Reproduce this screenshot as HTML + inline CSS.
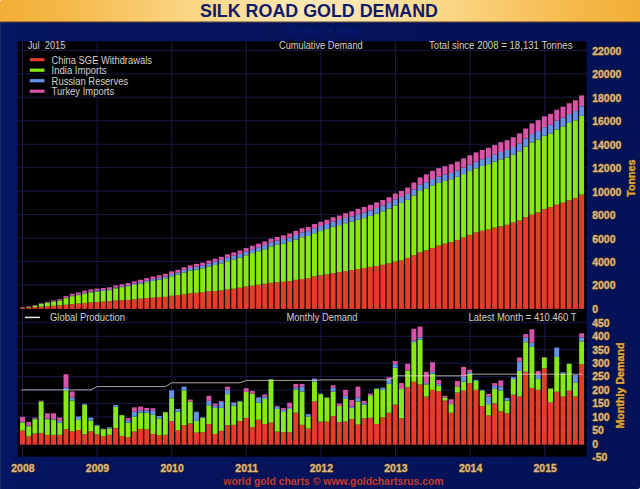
<!DOCTYPE html>
<html><head><meta charset="utf-8"><title>Silk Road Gold Demand</title>
<style>html,body{margin:0;padding:0;background:#05155a;}body{width:640px;height:489px;overflow:hidden;font-family:"Liberation Sans",sans-serif;}svg{display:block}text{font-family:"Liberation Sans",sans-serif;}</style>
</head><body>
<svg width="640" height="489" viewBox="0 0 640 489">
<defs>
<linearGradient id="hd" x1="0" y1="0" x2="1" y2="0"><stop offset="0" stop-color="#f2ae36"/><stop offset="0.1" stop-color="#f5b848"/><stop offset="0.31" stop-color="#fbd888"/><stop offset="0.45" stop-color="#fde6b0"/><stop offset="0.55" stop-color="#fde6b0"/><stop offset="0.69" stop-color="#fbd888"/><stop offset="0.9" stop-color="#f5b848"/><stop offset="1" stop-color="#f2ae36"/></linearGradient>
<linearGradient id="bg" x1="0" y1="0" x2="1" y2="0"><stop offset="0" stop-color="#061766"/><stop offset="0.04" stop-color="#05145e"/><stop offset="1" stop-color="#041257"/></linearGradient>
<filter id="sh" x="-10%" y="-10%" width="120%" height="120%" filterUnits="userSpaceOnUse"><feGaussianBlur stdDeviation="0.5"/></filter>
<filter id="bl" x="-2%" y="-2%" width="104%" height="104%"><feGaussianBlur stdDeviation="0.45"/></filter>
</defs>
<rect x="0" y="0" width="640" height="489" fill="url(#bg)"/>
<rect x="0" y="0" width="1.2" height="489" fill="#1c2a6c"/>
<rect x="0" y="0" width="640" height="22.1" fill="url(#hd)"/>
<rect x="0" y="21.3" width="640" height="1.2" fill="#5a3a20" opacity="0.7"/>
<path d="M0 0 H2.5 A2.5 2.5 0 0 0 0 2.5 Z" fill="#fff4d8"/>
<text x="319" y="16.8" text-anchor="middle" font-size="18" font-weight="bold" fill="#101a6c" textLength="238" lengthAdjust="spacingAndGlyphs">SILK ROAD GOLD DEMAND</text>
<text x="322" y="34" text-anchor="middle" font-size="10" font-weight="bold" font-style="italic" fill="#0a2590" opacity="0.45" filter="url(#sh)">Tonnes of Gold</text>
<rect x="17.6" y="41.3" width="569.0" height="415.4" fill="#000000"/>
<g stroke="#17194a" stroke-width="1" fill="none">
<line x1="17.6" x2="586.6" y1="285.03" y2="285.03"/>
<line x1="17.6" x2="586.6" y1="261.56" y2="261.56"/>
<line x1="17.6" x2="586.6" y1="238.10" y2="238.10"/>
<line x1="17.6" x2="586.6" y1="214.63" y2="214.63"/>
<line x1="17.6" x2="586.6" y1="191.16" y2="191.16"/>
<line x1="17.6" x2="586.6" y1="167.69" y2="167.69"/>
<line x1="17.6" x2="586.6" y1="144.22" y2="144.22"/>
<line x1="17.6" x2="586.6" y1="120.75" y2="120.75"/>
<line x1="17.6" x2="586.6" y1="97.29" y2="97.29"/>
<line x1="17.6" x2="586.6" y1="73.82" y2="73.82"/>
<line x1="17.6" x2="586.6" y1="50.35" y2="50.35"/>
<line x1="17.6" x2="586.6" y1="444.00" y2="444.00"/>
<line x1="17.6" x2="586.6" y1="430.53" y2="430.53"/>
<line x1="17.6" x2="586.6" y1="417.06" y2="417.06"/>
<line x1="17.6" x2="586.6" y1="403.59" y2="403.59"/>
<line x1="17.6" x2="586.6" y1="390.12" y2="390.12"/>
<line x1="17.6" x2="586.6" y1="376.65" y2="376.65"/>
<line x1="17.6" x2="586.6" y1="363.18" y2="363.18"/>
<line x1="17.6" x2="586.6" y1="349.71" y2="349.71"/>
<line x1="17.6" x2="586.6" y1="336.24" y2="336.24"/>
<line x1="17.6" x2="586.6" y1="322.77" y2="322.77"/>
<line x1="22.50" x2="22.50" y1="41.3" y2="456.7"/>
<line x1="97.11" x2="97.11" y1="41.3" y2="456.7"/>
<line x1="171.73" x2="171.73" y1="41.3" y2="456.7"/>
<line x1="246.34" x2="246.34" y1="41.3" y2="456.7"/>
<line x1="320.96" x2="320.96" y1="41.3" y2="456.7"/>
<line x1="395.57" x2="395.57" y1="41.3" y2="456.7"/>
<line x1="470.19" x2="470.19" y1="41.3" y2="456.7"/>
<line x1="544.80" x2="544.80" y1="41.3" y2="456.7"/>
</g>
<g filter="url(#bl)">
<rect x="22.50" y="308.28" width="6.21" height="0.22" fill="#1a0604"/><rect x="28.71" y="307.29" width="6.21" height="1.21" fill="#1a0604"/><rect x="34.92" y="306.10" width="6.21" height="2.40" fill="#1a0604"/><rect x="41.14" y="304.16" width="6.21" height="4.34" fill="#1a0604"/><rect x="47.35" y="302.78" width="6.21" height="5.72" fill="#1a0604"/><rect x="53.56" y="301.40" width="6.21" height="7.10" fill="#1a0604"/><rect x="59.77" y="300.22" width="6.21" height="8.28" fill="#1a0604"/><rect x="65.99" y="297.09" width="6.21" height="11.41" fill="#1a0604"/><rect x="72.20" y="294.73" width="6.21" height="13.77" fill="#1a0604"/><rect x="78.41" y="293.50" width="6.21" height="15.00" fill="#1a0604"/><rect x="84.62" y="291.70" width="6.21" height="16.80" fill="#1a0604"/><rect x="90.83" y="290.51" width="6.21" height="17.99" fill="#1a0604"/><rect x="97.05" y="289.65" width="6.21" height="18.85" fill="#1a0604"/><rect x="103.26" y="288.97" width="6.21" height="19.53" fill="#1a0604"/><rect x="109.47" y="288.22" width="6.21" height="20.28" fill="#1a0604"/><rect x="115.68" y="286.46" width="6.21" height="22.04" fill="#1a0604"/><rect x="121.90" y="285.17" width="6.21" height="23.33" fill="#1a0604"/><rect x="128.11" y="284.01" width="6.21" height="24.49" fill="#1a0604"/><rect x="134.32" y="282.37" width="6.21" height="26.13" fill="#1a0604"/><rect x="140.53" y="280.69" width="6.21" height="27.81" fill="#1a0604"/><rect x="146.74" y="279.07" width="6.21" height="29.43" fill="#1a0604"/><rect x="152.96" y="277.46" width="6.21" height="31.04" fill="#1a0604"/><rect x="159.17" y="276.20" width="6.21" height="32.30" fill="#1a0604"/><rect x="165.38" y="274.78" width="6.21" height="33.72" fill="#1a0604"/><rect x="171.59" y="272.37" width="6.21" height="36.13" fill="#1a0604"/><rect x="177.81" y="270.81" width="6.21" height="37.69" fill="#1a0604"/><rect x="184.02" y="268.26" width="6.21" height="40.24" fill="#1a0604"/><rect x="190.23" y="266.28" width="6.21" height="42.22" fill="#1a0604"/><rect x="196.44" y="264.85" width="6.21" height="43.65" fill="#1a0604"/><rect x="202.65" y="263.67" width="6.21" height="44.83" fill="#1a0604"/><rect x="208.87" y="261.53" width="6.21" height="46.97" fill="#1a0604"/><rect x="215.08" y="259.74" width="6.21" height="48.76" fill="#1a0604"/><rect x="221.29" y="257.83" width="6.21" height="50.67" fill="#1a0604"/><rect x="227.50" y="255.28" width="6.21" height="53.22" fill="#1a0604"/><rect x="233.72" y="253.43" width="6.21" height="55.07" fill="#1a0604"/><rect x="239.93" y="251.53" width="6.21" height="56.97" fill="#1a0604"/><rect x="246.14" y="249.06" width="6.21" height="59.44" fill="#1a0604"/><rect x="252.35" y="246.71" width="6.21" height="61.79" fill="#1a0604"/><rect x="258.56" y="244.65" width="6.21" height="63.85" fill="#1a0604"/><rect x="264.78" y="242.46" width="6.21" height="66.04" fill="#1a0604"/><rect x="270.99" y="239.59" width="6.21" height="68.91" fill="#1a0604"/><rect x="277.20" y="237.91" width="6.21" height="70.59" fill="#1a0604"/><rect x="283.41" y="236.33" width="6.21" height="72.17" fill="#1a0604"/><rect x="289.63" y="234.52" width="6.21" height="73.98" fill="#1a0604"/><rect x="295.84" y="231.87" width="6.21" height="76.63" fill="#1a0604"/><rect x="302.05" y="229.23" width="6.21" height="79.27" fill="#1a0604"/><rect x="308.26" y="227.92" width="6.21" height="80.58" fill="#1a0604"/><rect x="314.47" y="225.04" width="6.21" height="83.46" fill="#1a0604"/><rect x="320.69" y="222.83" width="6.21" height="85.67" fill="#1a0604"/><rect x="326.90" y="220.82" width="6.21" height="87.68" fill="#1a0604"/><rect x="333.11" y="218.27" width="6.21" height="90.23" fill="#1a0604"/><rect x="339.32" y="216.53" width="6.21" height="91.97" fill="#1a0604"/><rect x="345.54" y="214.19" width="6.21" height="94.31" fill="#1a0604"/><rect x="351.75" y="212.30" width="6.21" height="96.20" fill="#1a0604"/><rect x="357.96" y="209.82" width="6.21" height="98.68" fill="#1a0604"/><rect x="364.17" y="207.98" width="6.21" height="100.52" fill="#1a0604"/><rect x="370.38" y="205.81" width="6.21" height="102.69" fill="#1a0604"/><rect x="376.60" y="203.43" width="6.21" height="105.07" fill="#1a0604"/><rect x="382.81" y="201.01" width="6.21" height="107.49" fill="#1a0604"/><rect x="389.02" y="198.13" width="6.21" height="110.37" fill="#1a0604"/><rect x="395.23" y="194.54" width="6.21" height="113.96" fill="#1a0604"/><rect x="401.45" y="191.95" width="6.21" height="116.55" fill="#1a0604"/><rect x="407.66" y="188.50" width="6.21" height="120.00" fill="#1a0604"/><rect x="413.87" y="183.51" width="6.21" height="124.99" fill="#1a0604"/><rect x="420.08" y="178.44" width="6.21" height="130.06" fill="#1a0604"/><rect x="426.29" y="175.36" width="6.21" height="133.14" fill="#1a0604"/><rect x="432.51" y="171.86" width="6.21" height="136.64" fill="#1a0604"/><rect x="438.72" y="169.15" width="6.21" height="139.35" fill="#1a0604"/><rect x="444.93" y="167.14" width="6.21" height="141.36" fill="#1a0604"/><rect x="451.14" y="165.28" width="6.21" height="143.22" fill="#1a0604"/><rect x="457.36" y="162.63" width="6.21" height="145.87" fill="#1a0604"/><rect x="463.57" y="159.37" width="6.21" height="149.13" fill="#1a0604"/><rect x="469.78" y="156.23" width="6.21" height="152.27" fill="#1a0604"/><rect x="475.99" y="153.39" width="6.21" height="155.11" fill="#1a0604"/><rect x="482.20" y="150.98" width="6.21" height="157.52" fill="#1a0604"/><rect x="488.42" y="148.75" width="6.21" height="159.75" fill="#1a0604"/><rect x="494.63" y="146.04" width="6.21" height="162.46" fill="#1a0604"/><rect x="500.84" y="143.22" width="6.21" height="165.28" fill="#1a0604"/><rect x="507.05" y="141.16" width="6.21" height="167.34" fill="#1a0604"/><rect x="513.27" y="138.19" width="6.21" height="170.31" fill="#1a0604"/><rect x="519.48" y="134.36" width="6.21" height="174.14" fill="#1a0604"/><rect x="525.69" y="129.50" width="6.21" height="179.00" fill="#1a0604"/><rect x="531.90" y="124.42" width="6.21" height="184.08" fill="#1a0604"/><rect x="538.11" y="121.17" width="6.21" height="187.33" fill="#1a0604"/><rect x="544.33" y="117.31" width="6.21" height="191.19" fill="#1a0604"/><rect x="550.54" y="114.92" width="6.21" height="193.58" fill="#1a0604"/><rect x="556.75" y="110.74" width="6.21" height="197.76" fill="#1a0604"/><rect x="562.96" y="107.65" width="6.21" height="200.85" fill="#1a0604"/><rect x="569.18" y="104.18" width="6.21" height="204.32" fill="#1a0604"/><rect x="575.39" y="101.21" width="6.21" height="207.29" fill="#1a0604"/>
<rect x="20.05" y="307.90" width="4.9" height="1.00" fill="#e43c2c"/><rect x="20.05" y="307.53" width="4.9" height="0.36" fill="#86ea14"/><rect x="20.05" y="307.51" width="4.9" height="0.02" fill="#6494ea"/><rect x="20.05" y="307.28" width="4.9" height="0.23" fill="#d852aa"/><rect x="26.26" y="307.55" width="4.9" height="1.35" fill="#e43c2c"/><rect x="26.26" y="306.74" width="4.9" height="0.81" fill="#86ea14"/><rect x="26.26" y="306.69" width="4.9" height="0.05" fill="#6494ea"/><rect x="26.26" y="306.29" width="4.9" height="0.40" fill="#d852aa"/><rect x="32.47" y="307.08" width="4.9" height="1.82" fill="#e43c2c"/><rect x="32.47" y="305.62" width="4.9" height="1.45" fill="#86ea14"/><rect x="32.47" y="305.54" width="4.9" height="0.08" fill="#6494ea"/><rect x="32.47" y="305.10" width="4.9" height="0.44" fill="#d852aa"/><rect x="38.69" y="306.58" width="4.9" height="2.32" fill="#e43c2c"/><rect x="38.69" y="303.71" width="4.9" height="2.87" fill="#86ea14"/><rect x="38.69" y="303.62" width="4.9" height="0.10" fill="#6494ea"/><rect x="38.69" y="303.16" width="4.9" height="0.46" fill="#d852aa"/><rect x="44.90" y="306.17" width="4.9" height="2.73" fill="#e43c2c"/><rect x="44.90" y="302.60" width="4.9" height="3.57" fill="#86ea14"/><rect x="44.90" y="302.48" width="4.9" height="0.12" fill="#6494ea"/><rect x="44.90" y="301.78" width="4.9" height="0.70" fill="#d852aa"/><rect x="51.11" y="305.77" width="4.9" height="3.13" fill="#e43c2c"/><rect x="51.11" y="301.52" width="4.9" height="4.25" fill="#86ea14"/><rect x="51.11" y="301.37" width="4.9" height="0.15" fill="#6494ea"/><rect x="51.11" y="300.40" width="4.9" height="0.97" fill="#d852aa"/><rect x="57.32" y="305.36" width="4.9" height="3.54" fill="#e43c2c"/><rect x="57.32" y="300.56" width="4.9" height="4.79" fill="#86ea14"/><rect x="57.32" y="300.33" width="4.9" height="0.23" fill="#6494ea"/><rect x="57.32" y="299.22" width="4.9" height="1.11" fill="#d852aa"/><rect x="63.54" y="304.69" width="4.9" height="4.21" fill="#e43c2c"/><rect x="63.54" y="298.16" width="4.9" height="6.54" fill="#86ea14"/><rect x="63.54" y="297.81" width="4.9" height="0.35" fill="#6494ea"/><rect x="63.54" y="296.09" width="4.9" height="1.72" fill="#d852aa"/><rect x="69.75" y="304.13" width="4.9" height="4.77" fill="#e43c2c"/><rect x="69.75" y="296.21" width="4.9" height="7.92" fill="#86ea14"/><rect x="69.75" y="295.73" width="4.9" height="0.48" fill="#6494ea"/><rect x="69.75" y="293.73" width="4.9" height="2.00" fill="#d852aa"/><rect x="75.96" y="303.50" width="4.9" height="5.40" fill="#e43c2c"/><rect x="75.96" y="295.14" width="4.9" height="8.36" fill="#86ea14"/><rect x="75.96" y="294.50" width="4.9" height="0.64" fill="#6494ea"/><rect x="75.96" y="292.50" width="4.9" height="2.00" fill="#d852aa"/><rect x="82.17" y="303.07" width="4.9" height="5.83" fill="#e43c2c"/><rect x="82.17" y="293.37" width="4.9" height="9.69" fill="#86ea14"/><rect x="82.17" y="292.69" width="4.9" height="0.68" fill="#6494ea"/><rect x="82.17" y="290.70" width="4.9" height="2.00" fill="#d852aa"/><rect x="88.38" y="302.50" width="4.9" height="6.40" fill="#e43c2c"/><rect x="88.38" y="292.32" width="4.9" height="10.18" fill="#86ea14"/><rect x="88.38" y="291.51" width="4.9" height="0.81" fill="#6494ea"/><rect x="88.38" y="289.51" width="4.9" height="2.00" fill="#d852aa"/><rect x="94.60" y="302.07" width="4.9" height="6.83" fill="#e43c2c"/><rect x="94.60" y="291.50" width="4.9" height="10.57" fill="#86ea14"/><rect x="94.60" y="290.65" width="4.9" height="0.85" fill="#6494ea"/><rect x="94.60" y="288.65" width="4.9" height="2.00" fill="#d852aa"/><rect x="100.81" y="301.72" width="4.9" height="7.18" fill="#e43c2c"/><rect x="100.81" y="290.83" width="4.9" height="10.88" fill="#86ea14"/><rect x="100.81" y="289.96" width="4.9" height="0.87" fill="#6494ea"/><rect x="100.81" y="287.97" width="4.9" height="2.00" fill="#d852aa"/><rect x="107.02" y="301.31" width="4.9" height="7.59" fill="#e43c2c"/><rect x="107.02" y="290.13" width="4.9" height="11.17" fill="#86ea14"/><rect x="107.02" y="289.21" width="4.9" height="0.92" fill="#6494ea"/><rect x="107.02" y="287.22" width="4.9" height="2.00" fill="#d852aa"/><rect x="113.23" y="300.60" width="4.9" height="8.30" fill="#e43c2c"/><rect x="113.23" y="288.45" width="4.9" height="12.14" fill="#86ea14"/><rect x="113.23" y="287.46" width="4.9" height="0.99" fill="#6494ea"/><rect x="113.23" y="285.46" width="4.9" height="2.00" fill="#d852aa"/><rect x="119.45" y="300.24" width="4.9" height="8.66" fill="#e43c2c"/><rect x="119.45" y="287.16" width="4.9" height="13.07" fill="#86ea14"/><rect x="119.45" y="286.17" width="4.9" height="0.99" fill="#6494ea"/><rect x="119.45" y="284.17" width="4.9" height="2.00" fill="#d852aa"/><rect x="125.66" y="299.92" width="4.9" height="8.98" fill="#e43c2c"/><rect x="125.66" y="286.21" width="4.9" height="13.72" fill="#86ea14"/><rect x="125.66" y="285.10" width="4.9" height="1.10" fill="#6494ea"/><rect x="125.66" y="283.01" width="4.9" height="2.09" fill="#d852aa"/><rect x="131.87" y="299.37" width="4.9" height="9.53" fill="#e43c2c"/><rect x="131.87" y="284.97" width="4.9" height="14.39" fill="#86ea14"/><rect x="131.87" y="283.65" width="4.9" height="1.32" fill="#6494ea"/><rect x="131.87" y="281.37" width="4.9" height="2.29" fill="#d852aa"/><rect x="138.08" y="298.69" width="4.9" height="10.21" fill="#e43c2c"/><rect x="138.08" y="283.57" width="4.9" height="15.12" fill="#86ea14"/><rect x="138.08" y="282.14" width="4.9" height="1.43" fill="#6494ea"/><rect x="138.08" y="279.69" width="4.9" height="2.46" fill="#d852aa"/><rect x="144.29" y="298.04" width="4.9" height="10.86" fill="#e43c2c"/><rect x="144.29" y="282.17" width="4.9" height="15.87" fill="#86ea14"/><rect x="144.29" y="280.63" width="4.9" height="1.54" fill="#6494ea"/><rect x="144.29" y="278.07" width="4.9" height="2.57" fill="#d852aa"/><rect x="150.51" y="297.60" width="4.9" height="11.30" fill="#e43c2c"/><rect x="150.51" y="280.87" width="4.9" height="16.73" fill="#86ea14"/><rect x="150.51" y="279.12" width="4.9" height="1.74" fill="#6494ea"/><rect x="150.51" y="276.46" width="4.9" height="2.66" fill="#d852aa"/><rect x="156.72" y="297.21" width="4.9" height="11.69" fill="#e43c2c"/><rect x="156.72" y="279.72" width="4.9" height="17.49" fill="#86ea14"/><rect x="156.72" y="277.87" width="4.9" height="1.85" fill="#6494ea"/><rect x="156.72" y="275.20" width="4.9" height="2.66" fill="#d852aa"/><rect x="162.93" y="296.80" width="4.9" height="12.10" fill="#e43c2c"/><rect x="162.93" y="278.29" width="4.9" height="18.51" fill="#86ea14"/><rect x="162.93" y="276.44" width="4.9" height="1.85" fill="#6494ea"/><rect x="162.93" y="273.78" width="4.9" height="2.66" fill="#d852aa"/><rect x="169.14" y="295.78" width="4.9" height="13.12" fill="#e43c2c"/><rect x="169.14" y="276.24" width="4.9" height="19.54" fill="#86ea14"/><rect x="169.14" y="274.03" width="4.9" height="2.20" fill="#6494ea"/><rect x="169.14" y="271.37" width="4.9" height="2.66" fill="#d852aa"/><rect x="175.36" y="295.16" width="4.9" height="13.74" fill="#e43c2c"/><rect x="175.36" y="274.80" width="4.9" height="20.36" fill="#86ea14"/><rect x="175.36" y="272.48" width="4.9" height="2.32" fill="#6494ea"/><rect x="175.36" y="269.81" width="4.9" height="2.66" fill="#d852aa"/><rect x="181.57" y="294.32" width="4.9" height="14.58" fill="#e43c2c"/><rect x="181.57" y="272.41" width="4.9" height="21.91" fill="#86ea14"/><rect x="181.57" y="269.92" width="4.9" height="2.49" fill="#6494ea"/><rect x="181.57" y="267.26" width="4.9" height="2.66" fill="#d852aa"/><rect x="187.78" y="293.41" width="4.9" height="15.49" fill="#e43c2c"/><rect x="187.78" y="270.51" width="4.9" height="22.89" fill="#86ea14"/><rect x="187.78" y="268.02" width="4.9" height="2.49" fill="#6494ea"/><rect x="187.78" y="265.28" width="4.9" height="2.74" fill="#d852aa"/><rect x="193.99" y="292.90" width="4.9" height="16.00" fill="#e43c2c"/><rect x="193.99" y="269.49" width="4.9" height="23.41" fill="#86ea14"/><rect x="193.99" y="266.59" width="4.9" height="2.90" fill="#6494ea"/><rect x="193.99" y="263.85" width="4.9" height="2.74" fill="#d852aa"/><rect x="200.20" y="292.37" width="4.9" height="16.53" fill="#e43c2c"/><rect x="200.20" y="268.33" width="4.9" height="24.04" fill="#86ea14"/><rect x="200.20" y="265.41" width="4.9" height="2.92" fill="#6494ea"/><rect x="200.20" y="262.67" width="4.9" height="2.74" fill="#d852aa"/><rect x="206.42" y="291.48" width="4.9" height="17.42" fill="#e43c2c"/><rect x="206.42" y="266.61" width="4.9" height="24.87" fill="#86ea14"/><rect x="206.42" y="263.49" width="4.9" height="3.11" fill="#6494ea"/><rect x="206.42" y="260.53" width="4.9" height="2.97" fill="#d852aa"/><rect x="212.63" y="291.03" width="4.9" height="17.87" fill="#e43c2c"/><rect x="212.63" y="265.01" width="4.9" height="26.02" fill="#86ea14"/><rect x="212.63" y="261.80" width="4.9" height="3.21" fill="#6494ea"/><rect x="212.63" y="258.74" width="4.9" height="3.06" fill="#d852aa"/><rect x="218.84" y="290.44" width="4.9" height="18.46" fill="#e43c2c"/><rect x="218.84" y="263.41" width="4.9" height="27.03" fill="#86ea14"/><rect x="218.84" y="259.92" width="4.9" height="3.48" fill="#6494ea"/><rect x="218.84" y="256.83" width="4.9" height="3.10" fill="#d852aa"/><rect x="225.05" y="289.60" width="4.9" height="19.30" fill="#e43c2c"/><rect x="225.05" y="261.19" width="4.9" height="28.40" fill="#86ea14"/><rect x="225.05" y="257.51" width="4.9" height="3.69" fill="#6494ea"/><rect x="225.05" y="254.28" width="4.9" height="3.23" fill="#d852aa"/><rect x="231.27" y="288.74" width="4.9" height="20.16" fill="#e43c2c"/><rect x="231.27" y="259.50" width="4.9" height="29.24" fill="#86ea14"/><rect x="231.27" y="255.68" width="4.9" height="3.82" fill="#6494ea"/><rect x="231.27" y="252.43" width="4.9" height="3.25" fill="#d852aa"/><rect x="237.48" y="287.72" width="4.9" height="21.18" fill="#e43c2c"/><rect x="237.48" y="257.61" width="4.9" height="30.11" fill="#86ea14"/><rect x="237.48" y="253.78" width="4.9" height="3.84" fill="#6494ea"/><rect x="237.48" y="250.53" width="4.9" height="3.25" fill="#d852aa"/><rect x="243.69" y="286.55" width="4.9" height="22.35" fill="#e43c2c"/><rect x="243.69" y="255.31" width="4.9" height="31.24" fill="#86ea14"/><rect x="243.69" y="251.47" width="4.9" height="3.84" fill="#6494ea"/><rect x="243.69" y="248.06" width="4.9" height="3.42" fill="#d852aa"/><rect x="249.90" y="285.79" width="4.9" height="23.11" fill="#e43c2c"/><rect x="249.90" y="253.08" width="4.9" height="32.71" fill="#86ea14"/><rect x="249.90" y="249.24" width="4.9" height="3.83" fill="#6494ea"/><rect x="249.90" y="245.71" width="4.9" height="3.53" fill="#d852aa"/><rect x="256.11" y="284.71" width="4.9" height="24.19" fill="#e43c2c"/><rect x="256.11" y="251.26" width="4.9" height="33.45" fill="#86ea14"/><rect x="256.11" y="247.18" width="4.9" height="4.07" fill="#6494ea"/><rect x="256.11" y="243.65" width="4.9" height="3.53" fill="#d852aa"/><rect x="262.33" y="283.82" width="4.9" height="25.08" fill="#e43c2c"/><rect x="262.33" y="249.27" width="4.9" height="34.55" fill="#86ea14"/><rect x="262.33" y="245.09" width="4.9" height="4.18" fill="#6494ea"/><rect x="262.33" y="241.46" width="4.9" height="3.63" fill="#d852aa"/><rect x="268.54" y="282.86" width="4.9" height="26.04" fill="#e43c2c"/><rect x="268.54" y="246.42" width="4.9" height="36.45" fill="#86ea14"/><rect x="268.54" y="242.22" width="4.9" height="4.20" fill="#6494ea"/><rect x="268.54" y="238.59" width="4.9" height="3.62" fill="#d852aa"/><rect x="274.75" y="282.31" width="4.9" height="26.59" fill="#e43c2c"/><rect x="274.75" y="244.87" width="4.9" height="37.44" fill="#86ea14"/><rect x="274.75" y="240.57" width="4.9" height="4.30" fill="#6494ea"/><rect x="274.75" y="236.91" width="4.9" height="3.66" fill="#d852aa"/><rect x="280.96" y="281.78" width="4.9" height="27.12" fill="#e43c2c"/><rect x="280.96" y="243.47" width="4.9" height="38.31" fill="#86ea14"/><rect x="280.96" y="239.07" width="4.9" height="4.40" fill="#6494ea"/><rect x="280.96" y="235.33" width="4.9" height="3.74" fill="#d852aa"/><rect x="287.18" y="281.25" width="4.9" height="27.65" fill="#e43c2c"/><rect x="287.18" y="241.93" width="4.9" height="39.32" fill="#86ea14"/><rect x="287.18" y="237.47" width="4.9" height="4.46" fill="#6494ea"/><rect x="287.18" y="233.52" width="4.9" height="3.95" fill="#d852aa"/><rect x="293.39" y="279.85" width="4.9" height="29.05" fill="#e43c2c"/><rect x="293.39" y="239.53" width="4.9" height="40.33" fill="#86ea14"/><rect x="293.39" y="234.99" width="4.9" height="4.54" fill="#6494ea"/><rect x="293.39" y="230.87" width="4.9" height="4.12" fill="#d852aa"/><rect x="299.60" y="279.00" width="4.9" height="29.90" fill="#e43c2c"/><rect x="299.60" y="237.21" width="4.9" height="41.79" fill="#86ea14"/><rect x="299.60" y="232.46" width="4.9" height="4.75" fill="#6494ea"/><rect x="299.60" y="228.23" width="4.9" height="4.23" fill="#d852aa"/><rect x="305.81" y="278.31" width="4.9" height="30.59" fill="#e43c2c"/><rect x="305.81" y="236.01" width="4.9" height="42.30" fill="#86ea14"/><rect x="305.81" y="231.16" width="4.9" height="4.85" fill="#6494ea"/><rect x="305.81" y="226.92" width="4.9" height="4.23" fill="#d852aa"/><rect x="312.02" y="276.41" width="4.9" height="32.49" fill="#e43c2c"/><rect x="312.02" y="233.25" width="4.9" height="43.15" fill="#86ea14"/><rect x="312.02" y="228.30" width="4.9" height="4.96" fill="#6494ea"/><rect x="312.02" y="224.04" width="4.9" height="4.25" fill="#d852aa"/><rect x="318.24" y="275.41" width="4.9" height="33.49" fill="#e43c2c"/><rect x="318.24" y="231.06" width="4.9" height="44.34" fill="#86ea14"/><rect x="318.24" y="226.08" width="4.9" height="4.98" fill="#6494ea"/><rect x="318.24" y="221.83" width="4.9" height="4.25" fill="#d852aa"/><rect x="324.45" y="274.41" width="4.9" height="34.49" fill="#e43c2c"/><rect x="324.45" y="229.06" width="4.9" height="45.35" fill="#86ea14"/><rect x="324.45" y="224.06" width="4.9" height="5.00" fill="#6494ea"/><rect x="324.45" y="219.82" width="4.9" height="4.25" fill="#d852aa"/><rect x="330.66" y="273.15" width="4.9" height="35.75" fill="#e43c2c"/><rect x="330.66" y="226.77" width="4.9" height="46.38" fill="#86ea14"/><rect x="330.66" y="221.62" width="4.9" height="5.16" fill="#6494ea"/><rect x="330.66" y="217.27" width="4.9" height="4.35" fill="#d852aa"/><rect x="336.87" y="272.18" width="4.9" height="36.72" fill="#e43c2c"/><rect x="336.87" y="225.14" width="4.9" height="47.04" fill="#86ea14"/><rect x="336.87" y="219.98" width="4.9" height="5.15" fill="#6494ea"/><rect x="336.87" y="215.53" width="4.9" height="4.45" fill="#d852aa"/><rect x="343.09" y="271.18" width="4.9" height="37.72" fill="#e43c2c"/><rect x="343.09" y="223.19" width="4.9" height="47.99" fill="#86ea14"/><rect x="343.09" y="217.90" width="4.9" height="5.29" fill="#6494ea"/><rect x="343.09" y="213.19" width="4.9" height="4.71" fill="#d852aa"/><rect x="349.30" y="270.06" width="4.9" height="38.84" fill="#e43c2c"/><rect x="349.30" y="221.64" width="4.9" height="48.42" fill="#86ea14"/><rect x="349.30" y="216.30" width="4.9" height="5.34" fill="#6494ea"/><rect x="349.30" y="211.30" width="4.9" height="5.00" fill="#d852aa"/><rect x="355.51" y="269.19" width="4.9" height="39.71" fill="#e43c2c"/><rect x="355.51" y="219.80" width="4.9" height="49.39" fill="#86ea14"/><rect x="355.51" y="214.29" width="4.9" height="5.52" fill="#6494ea"/><rect x="355.51" y="208.82" width="4.9" height="5.47" fill="#d852aa"/><rect x="361.72" y="268.05" width="4.9" height="40.85" fill="#e43c2c"/><rect x="361.72" y="218.11" width="4.9" height="49.93" fill="#86ea14"/><rect x="361.72" y="212.54" width="4.9" height="5.57" fill="#6494ea"/><rect x="361.72" y="206.98" width="4.9" height="5.57" fill="#d852aa"/><rect x="367.93" y="266.88" width="4.9" height="42.02" fill="#e43c2c"/><rect x="367.93" y="216.01" width="4.9" height="50.87" fill="#86ea14"/><rect x="367.93" y="210.45" width="4.9" height="5.56" fill="#6494ea"/><rect x="367.93" y="204.81" width="4.9" height="5.63" fill="#d852aa"/><rect x="374.15" y="265.99" width="4.9" height="42.91" fill="#e43c2c"/><rect x="374.15" y="213.63" width="4.9" height="52.35" fill="#86ea14"/><rect x="374.15" y="208.06" width="4.9" height="5.58" fill="#6494ea"/><rect x="374.15" y="202.43" width="4.9" height="5.63" fill="#d852aa"/><rect x="380.36" y="264.79" width="4.9" height="44.11" fill="#e43c2c"/><rect x="380.36" y="211.30" width="4.9" height="53.50" fill="#86ea14"/><rect x="380.36" y="205.63" width="4.9" height="5.67" fill="#6494ea"/><rect x="380.36" y="200.01" width="4.9" height="5.62" fill="#d852aa"/><rect x="386.57" y="263.40" width="4.9" height="45.50" fill="#e43c2c"/><rect x="386.57" y="208.70" width="4.9" height="54.69" fill="#86ea14"/><rect x="386.57" y="202.83" width="4.9" height="5.87" fill="#6494ea"/><rect x="386.57" y="197.13" width="4.9" height="5.70" fill="#d852aa"/><rect x="392.78" y="261.64" width="4.9" height="47.26" fill="#e43c2c"/><rect x="392.78" y="205.39" width="4.9" height="56.24" fill="#86ea14"/><rect x="392.78" y="199.37" width="4.9" height="6.02" fill="#6494ea"/><rect x="392.78" y="193.54" width="4.9" height="5.83" fill="#d852aa"/><rect x="399.00" y="260.48" width="4.9" height="48.42" fill="#e43c2c"/><rect x="399.00" y="203.04" width="4.9" height="57.44" fill="#86ea14"/><rect x="399.00" y="197.03" width="4.9" height="6.01" fill="#6494ea"/><rect x="399.00" y="190.95" width="4.9" height="6.08" fill="#d852aa"/><rect x="405.21" y="257.94" width="4.9" height="50.96" fill="#e43c2c"/><rect x="405.21" y="199.86" width="4.9" height="58.08" fill="#86ea14"/><rect x="405.21" y="193.86" width="4.9" height="6.00" fill="#6494ea"/><rect x="405.21" y="187.50" width="4.9" height="6.37" fill="#d852aa"/><rect x="411.42" y="255.16" width="4.9" height="53.74" fill="#e43c2c"/><rect x="411.42" y="195.44" width="4.9" height="59.71" fill="#86ea14"/><rect x="411.42" y="189.38" width="4.9" height="6.06" fill="#6494ea"/><rect x="411.42" y="182.51" width="4.9" height="6.87" fill="#d852aa"/><rect x="417.63" y="252.49" width="4.9" height="56.41" fill="#e43c2c"/><rect x="417.63" y="190.91" width="4.9" height="61.58" fill="#86ea14"/><rect x="417.63" y="184.77" width="4.9" height="6.15" fill="#6494ea"/><rect x="417.63" y="177.44" width="4.9" height="7.33" fill="#d852aa"/><rect x="423.84" y="250.37" width="4.9" height="58.53" fill="#e43c2c"/><rect x="423.84" y="188.36" width="4.9" height="62.01" fill="#86ea14"/><rect x="423.84" y="182.17" width="4.9" height="6.20" fill="#6494ea"/><rect x="423.84" y="174.36" width="4.9" height="7.81" fill="#d852aa"/><rect x="430.06" y="247.95" width="4.9" height="60.95" fill="#e43c2c"/><rect x="430.06" y="185.35" width="4.9" height="62.61" fill="#86ea14"/><rect x="430.06" y="179.08" width="4.9" height="6.27" fill="#6494ea"/><rect x="430.06" y="170.86" width="4.9" height="8.22" fill="#d852aa"/><rect x="436.27" y="245.59" width="4.9" height="63.31" fill="#e43c2c"/><rect x="436.27" y="182.86" width="4.9" height="62.73" fill="#86ea14"/><rect x="436.27" y="176.53" width="4.9" height="6.34" fill="#6494ea"/><rect x="436.27" y="168.15" width="4.9" height="8.38" fill="#d852aa"/><rect x="442.48" y="243.65" width="4.9" height="65.25" fill="#e43c2c"/><rect x="442.48" y="180.90" width="4.9" height="62.75" fill="#86ea14"/><rect x="442.48" y="174.57" width="4.9" height="6.33" fill="#6494ea"/><rect x="442.48" y="166.14" width="4.9" height="8.43" fill="#d852aa"/><rect x="448.69" y="242.25" width="4.9" height="66.65" fill="#e43c2c"/><rect x="448.69" y="179.23" width="4.9" height="63.03" fill="#86ea14"/><rect x="448.69" y="172.91" width="4.9" height="6.32" fill="#6494ea"/><rect x="448.69" y="164.28" width="4.9" height="8.63" fill="#d852aa"/><rect x="454.91" y="239.95" width="4.9" height="68.95" fill="#e43c2c"/><rect x="454.91" y="176.78" width="4.9" height="63.17" fill="#86ea14"/><rect x="454.91" y="170.47" width="4.9" height="6.30" fill="#6494ea"/><rect x="454.91" y="161.63" width="4.9" height="8.84" fill="#d852aa"/><rect x="461.12" y="237.57" width="4.9" height="71.33" fill="#e43c2c"/><rect x="461.12" y="174.12" width="4.9" height="63.44" fill="#86ea14"/><rect x="461.12" y="167.60" width="4.9" height="6.52" fill="#6494ea"/><rect x="461.12" y="158.37" width="4.9" height="9.23" fill="#d852aa"/><rect x="467.33" y="234.84" width="4.9" height="74.06" fill="#e43c2c"/><rect x="467.33" y="171.13" width="4.9" height="63.72" fill="#86ea14"/><rect x="467.33" y="164.53" width="4.9" height="6.59" fill="#6494ea"/><rect x="467.33" y="155.23" width="4.9" height="9.31" fill="#d852aa"/><rect x="473.54" y="232.42" width="4.9" height="76.48" fill="#e43c2c"/><rect x="473.54" y="168.33" width="4.9" height="64.09" fill="#86ea14"/><rect x="473.54" y="161.69" width="4.9" height="6.64" fill="#6494ea"/><rect x="473.54" y="152.39" width="4.9" height="9.30" fill="#d852aa"/><rect x="479.75" y="230.72" width="4.9" height="78.18" fill="#e43c2c"/><rect x="479.75" y="165.95" width="4.9" height="64.78" fill="#86ea14"/><rect x="479.75" y="159.28" width="4.9" height="6.66" fill="#6494ea"/><rect x="479.75" y="149.98" width="4.9" height="9.31" fill="#d852aa"/><rect x="485.97" y="229.45" width="4.9" height="79.45" fill="#e43c2c"/><rect x="485.97" y="164.16" width="4.9" height="65.29" fill="#86ea14"/><rect x="485.97" y="157.17" width="4.9" height="6.99" fill="#6494ea"/><rect x="485.97" y="147.75" width="4.9" height="9.43" fill="#d852aa"/><rect x="492.18" y="227.63" width="4.9" height="81.27" fill="#e43c2c"/><rect x="492.18" y="161.71" width="4.9" height="65.92" fill="#86ea14"/><rect x="492.18" y="154.58" width="4.9" height="7.13" fill="#6494ea"/><rect x="492.18" y="145.04" width="4.9" height="9.54" fill="#d852aa"/><rect x="498.39" y="226.17" width="4.9" height="82.73" fill="#e43c2c"/><rect x="498.39" y="159.34" width="4.9" height="66.84" fill="#86ea14"/><rect x="498.39" y="152.02" width="4.9" height="7.32" fill="#6494ea"/><rect x="498.39" y="142.22" width="4.9" height="9.80" fill="#d852aa"/><rect x="504.60" y="224.80" width="4.9" height="84.10" fill="#e43c2c"/><rect x="504.60" y="157.40" width="4.9" height="67.40" fill="#86ea14"/><rect x="504.60" y="149.96" width="4.9" height="7.43" fill="#6494ea"/><rect x="504.60" y="140.16" width="4.9" height="9.81" fill="#d852aa"/><rect x="510.82" y="222.59" width="4.9" height="86.31" fill="#e43c2c"/><rect x="510.82" y="154.51" width="4.9" height="68.08" fill="#86ea14"/><rect x="510.82" y="147.00" width="4.9" height="7.52" fill="#6494ea"/><rect x="510.82" y="137.19" width="4.9" height="9.81" fill="#d852aa"/><rect x="517.03" y="220.47" width="4.9" height="88.43" fill="#e43c2c"/><rect x="517.03" y="151.27" width="4.9" height="69.21" fill="#86ea14"/><rect x="517.03" y="143.34" width="4.9" height="7.92" fill="#6494ea"/><rect x="517.03" y="133.36" width="4.9" height="9.98" fill="#d852aa"/><rect x="523.24" y="217.24" width="4.9" height="91.66" fill="#e43c2c"/><rect x="523.24" y="146.75" width="4.9" height="70.49" fill="#86ea14"/><rect x="523.24" y="138.62" width="4.9" height="8.13" fill="#6494ea"/><rect x="523.24" y="128.50" width="4.9" height="10.12" fill="#d852aa"/><rect x="529.45" y="214.74" width="4.9" height="94.16" fill="#e43c2c"/><rect x="529.45" y="142.44" width="4.9" height="72.30" fill="#86ea14"/><rect x="529.45" y="134.13" width="4.9" height="8.31" fill="#6494ea"/><rect x="529.45" y="123.42" width="4.9" height="10.71" fill="#d852aa"/><rect x="535.66" y="212.32" width="4.9" height="96.58" fill="#e43c2c"/><rect x="535.66" y="139.54" width="4.9" height="72.77" fill="#86ea14"/><rect x="535.66" y="131.06" width="4.9" height="8.49" fill="#6494ea"/><rect x="535.66" y="120.17" width="4.9" height="10.88" fill="#d852aa"/><rect x="541.88" y="208.93" width="4.9" height="99.97" fill="#e43c2c"/><rect x="541.88" y="135.70" width="4.9" height="73.23" fill="#86ea14"/><rect x="541.88" y="127.22" width="4.9" height="8.49" fill="#6494ea"/><rect x="541.88" y="116.31" width="4.9" height="10.91" fill="#d852aa"/><rect x="548.09" y="207.08" width="4.9" height="101.82" fill="#e43c2c"/><rect x="548.09" y="133.30" width="4.9" height="73.77" fill="#86ea14"/><rect x="548.09" y="124.82" width="4.9" height="8.48" fill="#6494ea"/><rect x="548.09" y="113.92" width="4.9" height="10.90" fill="#d852aa"/><rect x="554.30" y="204.74" width="4.9" height="104.16" fill="#e43c2c"/><rect x="554.30" y="129.51" width="4.9" height="75.22" fill="#86ea14"/><rect x="554.30" y="120.64" width="4.9" height="8.88" fill="#6494ea"/><rect x="554.30" y="109.74" width="4.9" height="10.89" fill="#d852aa"/><rect x="560.51" y="202.62" width="4.9" height="106.28" fill="#e43c2c"/><rect x="560.51" y="126.47" width="4.9" height="76.15" fill="#86ea14"/><rect x="560.51" y="117.54" width="4.9" height="8.93" fill="#6494ea"/><rect x="560.51" y="106.65" width="4.9" height="10.88" fill="#d852aa"/><rect x="566.73" y="200.23" width="4.9" height="108.67" fill="#e43c2c"/><rect x="566.73" y="122.98" width="4.9" height="77.25" fill="#86ea14"/><rect x="566.73" y="114.06" width="4.9" height="8.92" fill="#6494ea"/><rect x="566.73" y="103.18" width="4.9" height="10.88" fill="#d852aa"/><rect x="572.94" y="198.11" width="4.9" height="110.79" fill="#e43c2c"/><rect x="572.94" y="120.31" width="4.9" height="77.80" fill="#86ea14"/><rect x="572.94" y="111.08" width="4.9" height="9.23" fill="#6494ea"/><rect x="572.94" y="100.21" width="4.9" height="10.87" fill="#d852aa"/><rect x="579.15" y="194.55" width="4.9" height="114.35" fill="#e43c2c"/><rect x="579.15" y="115.84" width="4.9" height="78.71" fill="#86ea14"/><rect x="579.15" y="106.45" width="4.9" height="9.39" fill="#6494ea"/><rect x="579.15" y="95.42" width="4.9" height="11.03" fill="#d852aa"/>
<rect x="20.05" y="430.53" width="4.9" height="14.17" fill="#e43c2c"/><rect x="20.05" y="422.45" width="4.9" height="8.08" fill="#86ea14"/><rect x="20.05" y="421.91" width="4.9" height="0.54" fill="#6494ea"/><rect x="20.05" y="416.79" width="4.9" height="5.12" fill="#d852aa"/><rect x="26.26" y="436.19" width="4.9" height="8.51" fill="#e43c2c"/><rect x="26.26" y="426.22" width="4.9" height="9.97" fill="#86ea14"/><rect x="26.26" y="425.68" width="4.9" height="0.54" fill="#6494ea"/><rect x="26.26" y="421.91" width="4.9" height="3.77" fill="#d852aa"/><rect x="32.47" y="433.49" width="4.9" height="11.21" fill="#e43c2c"/><rect x="32.47" y="419.22" width="4.9" height="14.28" fill="#86ea14"/><rect x="32.47" y="418.41" width="4.9" height="0.81" fill="#6494ea"/><rect x="32.47" y="417.60" width="4.9" height="0.81" fill="#d852aa"/><rect x="38.69" y="432.95" width="4.9" height="11.75" fill="#e43c2c"/><rect x="38.69" y="401.43" width="4.9" height="31.52" fill="#86ea14"/><rect x="38.69" y="401.17" width="4.9" height="0.27" fill="#6494ea"/><rect x="38.69" y="400.63" width="4.9" height="0.54" fill="#d852aa"/><rect x="44.90" y="434.84" width="4.9" height="9.86" fill="#e43c2c"/><rect x="44.90" y="419.22" width="4.9" height="15.63" fill="#86ea14"/><rect x="44.90" y="418.68" width="4.9" height="0.54" fill="#6494ea"/><rect x="44.90" y="413.29" width="4.9" height="5.39" fill="#d852aa"/><rect x="51.11" y="434.84" width="4.9" height="9.86" fill="#e43c2c"/><rect x="51.11" y="419.75" width="4.9" height="15.09" fill="#86ea14"/><rect x="51.11" y="419.22" width="4.9" height="0.54" fill="#6494ea"/><rect x="51.11" y="413.29" width="4.9" height="5.93" fill="#d852aa"/><rect x="57.32" y="434.84" width="4.9" height="9.86" fill="#e43c2c"/><rect x="57.32" y="422.72" width="4.9" height="12.12" fill="#86ea14"/><rect x="57.32" y="420.83" width="4.9" height="1.89" fill="#6494ea"/><rect x="57.32" y="417.60" width="4.9" height="3.23" fill="#d852aa"/><rect x="63.54" y="429.18" width="4.9" height="15.52" fill="#e43c2c"/><rect x="63.54" y="390.39" width="4.9" height="38.79" fill="#86ea14"/><rect x="63.54" y="387.70" width="4.9" height="2.69" fill="#6494ea"/><rect x="63.54" y="374.23" width="4.9" height="13.47" fill="#d852aa"/><rect x="69.75" y="431.34" width="4.9" height="13.36" fill="#e43c2c"/><rect x="69.75" y="400.63" width="4.9" height="30.71" fill="#86ea14"/><rect x="69.75" y="397.66" width="4.9" height="2.96" fill="#6494ea"/><rect x="69.75" y="391.47" width="4.9" height="6.20" fill="#d852aa"/><rect x="75.96" y="429.99" width="4.9" height="14.71" fill="#e43c2c"/><rect x="75.96" y="420.02" width="4.9" height="9.97" fill="#86ea14"/><rect x="75.96" y="416.52" width="4.9" height="3.50" fill="#6494ea"/><rect x="82.17" y="434.30" width="4.9" height="10.40" fill="#e43c2c"/><rect x="82.17" y="404.67" width="4.9" height="29.63" fill="#86ea14"/><rect x="82.17" y="403.86" width="4.9" height="0.81" fill="#6494ea"/><rect x="88.38" y="431.34" width="4.9" height="13.36" fill="#e43c2c"/><rect x="88.38" y="420.56" width="4.9" height="10.78" fill="#86ea14"/><rect x="88.38" y="417.60" width="4.9" height="2.96" fill="#6494ea"/><rect x="94.60" y="434.30" width="4.9" height="10.40" fill="#e43c2c"/><rect x="94.60" y="425.68" width="4.9" height="8.62" fill="#86ea14"/><rect x="94.60" y="424.87" width="4.9" height="0.81" fill="#6494ea"/><rect x="100.81" y="436.19" width="4.9" height="8.51" fill="#e43c2c"/><rect x="100.81" y="429.18" width="4.9" height="7.00" fill="#86ea14"/><rect x="100.81" y="428.64" width="4.9" height="0.54" fill="#6494ea"/><rect x="107.02" y="434.84" width="4.9" height="9.86" fill="#e43c2c"/><rect x="107.02" y="428.37" width="4.9" height="6.47" fill="#86ea14"/><rect x="107.02" y="427.30" width="4.9" height="1.08" fill="#6494ea"/><rect x="113.23" y="428.11" width="4.9" height="16.59" fill="#e43c2c"/><rect x="113.23" y="406.55" width="4.9" height="21.55" fill="#86ea14"/><rect x="113.23" y="404.94" width="4.9" height="1.62" fill="#6494ea"/><rect x="119.45" y="435.92" width="4.9" height="8.78" fill="#e43c2c"/><rect x="119.45" y="415.17" width="4.9" height="20.74" fill="#86ea14"/><rect x="125.66" y="437.00" width="4.9" height="7.70" fill="#e43c2c"/><rect x="125.66" y="422.72" width="4.9" height="14.28" fill="#86ea14"/><rect x="125.66" y="420.29" width="4.9" height="2.42" fill="#6494ea"/><rect x="125.66" y="418.14" width="4.9" height="2.16" fill="#d852aa"/><rect x="131.87" y="431.61" width="4.9" height="13.09" fill="#e43c2c"/><rect x="131.87" y="416.52" width="4.9" height="15.09" fill="#86ea14"/><rect x="131.87" y="411.67" width="4.9" height="4.85" fill="#6494ea"/><rect x="131.87" y="407.36" width="4.9" height="4.31" fill="#d852aa"/><rect x="138.08" y="428.91" width="4.9" height="15.79" fill="#e43c2c"/><rect x="138.08" y="412.75" width="4.9" height="16.16" fill="#86ea14"/><rect x="138.08" y="410.32" width="4.9" height="2.42" fill="#6494ea"/><rect x="138.08" y="406.55" width="4.9" height="3.77" fill="#d852aa"/><rect x="144.29" y="429.45" width="4.9" height="15.25" fill="#e43c2c"/><rect x="144.29" y="412.75" width="4.9" height="16.70" fill="#86ea14"/><rect x="144.29" y="410.32" width="4.9" height="2.42" fill="#6494ea"/><rect x="144.29" y="407.90" width="4.9" height="2.42" fill="#d852aa"/><rect x="150.51" y="434.03" width="4.9" height="10.67" fill="#e43c2c"/><rect x="150.51" y="414.90" width="4.9" height="19.13" fill="#86ea14"/><rect x="150.51" y="410.32" width="4.9" height="4.58" fill="#6494ea"/><rect x="150.51" y="408.17" width="4.9" height="2.16" fill="#d852aa"/><rect x="156.72" y="435.38" width="4.9" height="9.32" fill="#e43c2c"/><rect x="156.72" y="418.41" width="4.9" height="16.97" fill="#86ea14"/><rect x="156.72" y="415.98" width="4.9" height="2.42" fill="#6494ea"/><rect x="162.93" y="434.84" width="4.9" height="9.86" fill="#e43c2c"/><rect x="162.93" y="412.21" width="4.9" height="22.63" fill="#86ea14"/><rect x="169.14" y="421.10" width="4.9" height="23.60" fill="#e43c2c"/><rect x="169.14" y="398.20" width="4.9" height="22.90" fill="#86ea14"/><rect x="169.14" y="390.39" width="4.9" height="7.81" fill="#6494ea"/><rect x="175.36" y="430.26" width="4.9" height="14.44" fill="#e43c2c"/><rect x="175.36" y="411.67" width="4.9" height="18.59" fill="#86ea14"/><rect x="175.36" y="408.98" width="4.9" height="2.69" fill="#6494ea"/><rect x="181.57" y="425.14" width="4.9" height="19.56" fill="#e43c2c"/><rect x="181.57" y="390.39" width="4.9" height="34.75" fill="#86ea14"/><rect x="181.57" y="386.62" width="4.9" height="3.77" fill="#6494ea"/><rect x="187.78" y="423.53" width="4.9" height="21.17" fill="#e43c2c"/><rect x="187.78" y="401.43" width="4.9" height="22.09" fill="#86ea14"/><rect x="187.78" y="399.55" width="4.9" height="1.89" fill="#d852aa"/><rect x="193.99" y="432.69" width="4.9" height="12.01" fill="#e43c2c"/><rect x="193.99" y="420.83" width="4.9" height="11.85" fill="#86ea14"/><rect x="193.99" y="411.67" width="4.9" height="9.16" fill="#6494ea"/><rect x="200.20" y="432.15" width="4.9" height="12.55" fill="#e43c2c"/><rect x="200.20" y="417.87" width="4.9" height="14.28" fill="#86ea14"/><rect x="200.20" y="417.33" width="4.9" height="0.54" fill="#6494ea"/><rect x="206.42" y="424.06" width="4.9" height="20.64" fill="#e43c2c"/><rect x="206.42" y="405.21" width="4.9" height="18.86" fill="#86ea14"/><rect x="206.42" y="400.90" width="4.9" height="4.31" fill="#6494ea"/><rect x="206.42" y="395.78" width="4.9" height="5.12" fill="#d852aa"/><rect x="212.63" y="434.03" width="4.9" height="10.67" fill="#e43c2c"/><rect x="212.63" y="407.90" width="4.9" height="26.13" fill="#86ea14"/><rect x="212.63" y="405.75" width="4.9" height="2.16" fill="#6494ea"/><rect x="212.63" y="403.59" width="4.9" height="2.16" fill="#d852aa"/><rect x="218.84" y="430.80" width="4.9" height="13.90" fill="#e43c2c"/><rect x="218.84" y="407.90" width="4.9" height="22.90" fill="#86ea14"/><rect x="218.84" y="401.70" width="4.9" height="6.20" fill="#6494ea"/><rect x="218.84" y="400.90" width="4.9" height="0.81" fill="#d852aa"/><rect x="225.05" y="425.14" width="4.9" height="19.56" fill="#e43c2c"/><rect x="225.05" y="394.16" width="4.9" height="30.98" fill="#86ea14"/><rect x="225.05" y="389.58" width="4.9" height="4.58" fill="#6494ea"/><rect x="225.05" y="386.62" width="4.9" height="2.96" fill="#d852aa"/><rect x="231.27" y="424.87" width="4.9" height="19.83" fill="#e43c2c"/><rect x="231.27" y="405.75" width="4.9" height="19.13" fill="#86ea14"/><rect x="231.27" y="402.78" width="4.9" height="2.96" fill="#6494ea"/><rect x="231.27" y="402.24" width="4.9" height="0.54" fill="#d852aa"/><rect x="237.48" y="421.10" width="4.9" height="23.60" fill="#e43c2c"/><rect x="237.48" y="401.43" width="4.9" height="19.67" fill="#86ea14"/><rect x="237.48" y="400.90" width="4.9" height="0.54" fill="#6494ea"/><rect x="243.69" y="417.87" width="4.9" height="26.83" fill="#e43c2c"/><rect x="243.69" y="392.01" width="4.9" height="25.86" fill="#86ea14"/><rect x="243.69" y="388.23" width="4.9" height="3.77" fill="#d852aa"/><rect x="249.90" y="427.03" width="4.9" height="17.67" fill="#e43c2c"/><rect x="249.90" y="393.62" width="4.9" height="33.41" fill="#86ea14"/><rect x="249.90" y="390.93" width="4.9" height="2.69" fill="#d852aa"/><rect x="256.11" y="419.75" width="4.9" height="24.95" fill="#e43c2c"/><rect x="256.11" y="402.78" width="4.9" height="16.97" fill="#86ea14"/><rect x="256.11" y="397.39" width="4.9" height="5.39" fill="#6494ea"/><rect x="262.33" y="424.06" width="4.9" height="20.64" fill="#e43c2c"/><rect x="262.33" y="399.01" width="4.9" height="25.05" fill="#86ea14"/><rect x="262.33" y="396.59" width="4.9" height="2.42" fill="#6494ea"/><rect x="262.33" y="394.43" width="4.9" height="2.16" fill="#d852aa"/><rect x="268.54" y="422.72" width="4.9" height="21.98" fill="#e43c2c"/><rect x="268.54" y="379.61" width="4.9" height="43.10" fill="#86ea14"/><rect x="268.54" y="379.07" width="4.9" height="0.54" fill="#6494ea"/><rect x="274.75" y="431.61" width="4.9" height="13.09" fill="#e43c2c"/><rect x="274.75" y="408.98" width="4.9" height="22.63" fill="#86ea14"/><rect x="274.75" y="406.55" width="4.9" height="2.42" fill="#6494ea"/><rect x="274.75" y="405.75" width="4.9" height="0.81" fill="#d852aa"/><rect x="280.96" y="432.15" width="4.9" height="12.55" fill="#e43c2c"/><rect x="280.96" y="411.94" width="4.9" height="20.20" fill="#86ea14"/><rect x="280.96" y="409.79" width="4.9" height="2.16" fill="#6494ea"/><rect x="280.96" y="407.90" width="4.9" height="1.89" fill="#d852aa"/><rect x="287.18" y="432.15" width="4.9" height="12.55" fill="#e43c2c"/><rect x="287.18" y="408.98" width="4.9" height="23.17" fill="#86ea14"/><rect x="287.18" y="407.63" width="4.9" height="1.35" fill="#6494ea"/><rect x="287.18" y="402.78" width="4.9" height="4.85" fill="#d852aa"/><rect x="293.39" y="412.75" width="4.9" height="31.95" fill="#e43c2c"/><rect x="293.39" y="389.58" width="4.9" height="23.17" fill="#86ea14"/><rect x="293.39" y="387.70" width="4.9" height="1.89" fill="#6494ea"/><rect x="293.39" y="383.92" width="4.9" height="3.77" fill="#d852aa"/><rect x="299.60" y="424.87" width="4.9" height="19.83" fill="#e43c2c"/><rect x="299.60" y="391.47" width="4.9" height="33.41" fill="#86ea14"/><rect x="299.60" y="386.62" width="4.9" height="4.85" fill="#6494ea"/><rect x="299.60" y="383.92" width="4.9" height="2.69" fill="#d852aa"/><rect x="305.81" y="428.64" width="4.9" height="16.06" fill="#e43c2c"/><rect x="305.81" y="416.52" width="4.9" height="12.12" fill="#86ea14"/><rect x="305.81" y="414.10" width="4.9" height="2.42" fill="#6494ea"/><rect x="312.02" y="401.43" width="4.9" height="43.27" fill="#e43c2c"/><rect x="312.02" y="381.50" width="4.9" height="19.94" fill="#86ea14"/><rect x="312.02" y="379.07" width="4.9" height="2.42" fill="#6494ea"/><rect x="312.02" y="378.54" width="4.9" height="0.54" fill="#d852aa"/><rect x="318.24" y="421.64" width="4.9" height="23.06" fill="#e43c2c"/><rect x="318.24" y="394.16" width="4.9" height="27.48" fill="#86ea14"/><rect x="318.24" y="393.62" width="4.9" height="0.54" fill="#6494ea"/><rect x="324.45" y="421.64" width="4.9" height="23.06" fill="#e43c2c"/><rect x="324.45" y="397.93" width="4.9" height="23.71" fill="#86ea14"/><rect x="324.45" y="397.39" width="4.9" height="0.54" fill="#6494ea"/><rect x="330.66" y="415.98" width="4.9" height="28.72" fill="#e43c2c"/><rect x="330.66" y="391.47" width="4.9" height="24.52" fill="#86ea14"/><rect x="330.66" y="387.70" width="4.9" height="3.77" fill="#6494ea"/><rect x="330.66" y="385.27" width="4.9" height="2.42" fill="#d852aa"/><rect x="336.87" y="422.18" width="4.9" height="22.52" fill="#e43c2c"/><rect x="336.87" y="406.01" width="4.9" height="16.16" fill="#86ea14"/><rect x="336.87" y="403.59" width="4.9" height="2.42" fill="#d852aa"/><rect x="343.09" y="421.64" width="4.9" height="23.06" fill="#e43c2c"/><rect x="343.09" y="399.01" width="4.9" height="22.63" fill="#86ea14"/><rect x="343.09" y="395.78" width="4.9" height="3.23" fill="#6494ea"/><rect x="343.09" y="389.85" width="4.9" height="5.93" fill="#d852aa"/><rect x="349.30" y="418.95" width="4.9" height="25.75" fill="#e43c2c"/><rect x="349.30" y="407.90" width="4.9" height="11.05" fill="#86ea14"/><rect x="349.30" y="406.55" width="4.9" height="1.35" fill="#6494ea"/><rect x="349.30" y="399.82" width="4.9" height="6.74" fill="#d852aa"/><rect x="355.51" y="424.60" width="4.9" height="20.10" fill="#e43c2c"/><rect x="355.51" y="401.43" width="4.9" height="23.17" fill="#86ea14"/><rect x="355.51" y="397.39" width="4.9" height="4.04" fill="#6494ea"/><rect x="355.51" y="386.62" width="4.9" height="10.78" fill="#d852aa"/><rect x="361.72" y="418.41" width="4.9" height="26.29" fill="#e43c2c"/><rect x="361.72" y="404.67" width="4.9" height="13.74" fill="#86ea14"/><rect x="361.72" y="403.32" width="4.9" height="1.35" fill="#6494ea"/><rect x="361.72" y="400.90" width="4.9" height="2.42" fill="#d852aa"/><rect x="367.93" y="417.87" width="4.9" height="26.83" fill="#e43c2c"/><rect x="367.93" y="395.24" width="4.9" height="22.63" fill="#86ea14"/><rect x="367.93" y="393.62" width="4.9" height="1.62" fill="#d852aa"/><rect x="374.15" y="424.06" width="4.9" height="20.64" fill="#e43c2c"/><rect x="374.15" y="389.04" width="4.9" height="35.02" fill="#86ea14"/><rect x="374.15" y="388.50" width="4.9" height="0.54" fill="#6494ea"/><rect x="380.36" y="417.33" width="4.9" height="27.37" fill="#e43c2c"/><rect x="380.36" y="389.85" width="4.9" height="27.48" fill="#86ea14"/><rect x="380.36" y="387.70" width="4.9" height="2.16" fill="#6494ea"/><rect x="386.57" y="412.75" width="4.9" height="31.95" fill="#e43c2c"/><rect x="386.57" y="383.92" width="4.9" height="28.83" fill="#86ea14"/><rect x="386.57" y="379.07" width="4.9" height="4.85" fill="#6494ea"/><rect x="386.57" y="377.19" width="4.9" height="1.89" fill="#d852aa"/><rect x="392.78" y="404.67" width="4.9" height="40.03" fill="#e43c2c"/><rect x="392.78" y="367.76" width="4.9" height="36.91" fill="#86ea14"/><rect x="392.78" y="364.26" width="4.9" height="3.50" fill="#6494ea"/><rect x="392.78" y="361.02" width="4.9" height="3.23" fill="#d852aa"/><rect x="399.00" y="418.14" width="4.9" height="26.56" fill="#e43c2c"/><rect x="399.00" y="389.04" width="4.9" height="29.10" fill="#86ea14"/><rect x="399.00" y="383.12" width="4.9" height="5.93" fill="#d852aa"/><rect x="405.21" y="387.16" width="4.9" height="57.54" fill="#e43c2c"/><rect x="405.21" y="370.45" width="4.9" height="16.70" fill="#86ea14"/><rect x="405.21" y="363.72" width="4.9" height="6.74" fill="#d852aa"/><rect x="411.42" y="381.77" width="4.9" height="62.93" fill="#e43c2c"/><rect x="411.42" y="342.17" width="4.9" height="39.60" fill="#86ea14"/><rect x="411.42" y="340.55" width="4.9" height="1.62" fill="#6494ea"/><rect x="411.42" y="328.70" width="4.9" height="11.85" fill="#d852aa"/><rect x="417.63" y="384.46" width="4.9" height="60.24" fill="#e43c2c"/><rect x="417.63" y="339.47" width="4.9" height="44.99" fill="#86ea14"/><rect x="417.63" y="337.32" width="4.9" height="2.16" fill="#6494ea"/><rect x="417.63" y="326.54" width="4.9" height="10.78" fill="#d852aa"/><rect x="423.84" y="396.59" width="4.9" height="48.11" fill="#e43c2c"/><rect x="423.84" y="384.46" width="4.9" height="12.12" fill="#86ea14"/><rect x="423.84" y="383.12" width="4.9" height="1.35" fill="#6494ea"/><rect x="423.84" y="371.80" width="4.9" height="11.31" fill="#d852aa"/><rect x="430.06" y="389.85" width="4.9" height="54.85" fill="#e43c2c"/><rect x="430.06" y="373.69" width="4.9" height="16.16" fill="#86ea14"/><rect x="430.06" y="371.80" width="4.9" height="1.89" fill="#6494ea"/><rect x="430.06" y="362.10" width="4.9" height="9.70" fill="#d852aa"/><rect x="436.27" y="391.20" width="4.9" height="53.50" fill="#e43c2c"/><rect x="436.27" y="385.81" width="4.9" height="5.39" fill="#86ea14"/><rect x="436.27" y="383.92" width="4.9" height="1.89" fill="#6494ea"/><rect x="436.27" y="379.88" width="4.9" height="4.04" fill="#d852aa"/><rect x="442.48" y="400.63" width="4.9" height="44.07" fill="#e43c2c"/><rect x="442.48" y="397.39" width="4.9" height="3.23" fill="#86ea14"/><rect x="442.48" y="395.78" width="4.9" height="1.62" fill="#d852aa"/><rect x="448.69" y="412.75" width="4.9" height="31.95" fill="#e43c2c"/><rect x="448.69" y="404.13" width="4.9" height="8.62" fill="#86ea14"/><rect x="448.69" y="399.28" width="4.9" height="4.85" fill="#d852aa"/><rect x="454.91" y="392.54" width="4.9" height="52.16" fill="#e43c2c"/><rect x="454.91" y="386.35" width="4.9" height="6.20" fill="#86ea14"/><rect x="454.91" y="380.96" width="4.9" height="5.39" fill="#d852aa"/><rect x="461.12" y="390.66" width="4.9" height="54.04" fill="#e43c2c"/><rect x="461.12" y="381.77" width="4.9" height="8.89" fill="#86ea14"/><rect x="461.12" y="376.38" width="4.9" height="5.39" fill="#6494ea"/><rect x="461.12" y="366.95" width="4.9" height="9.43" fill="#d852aa"/><rect x="467.33" y="383.12" width="4.9" height="61.58" fill="#e43c2c"/><rect x="467.33" y="373.69" width="4.9" height="9.43" fill="#86ea14"/><rect x="467.33" y="371.80" width="4.9" height="1.89" fill="#6494ea"/><rect x="467.33" y="369.65" width="4.9" height="2.16" fill="#d852aa"/><rect x="473.54" y="389.85" width="4.9" height="54.85" fill="#e43c2c"/><rect x="473.54" y="380.96" width="4.9" height="8.89" fill="#86ea14"/><rect x="473.54" y="379.88" width="4.9" height="1.08" fill="#6494ea"/><rect x="479.75" y="406.01" width="4.9" height="38.69" fill="#e43c2c"/><rect x="479.75" y="390.39" width="4.9" height="15.63" fill="#86ea14"/><rect x="479.75" y="389.85" width="4.9" height="0.54" fill="#6494ea"/><rect x="485.97" y="415.44" width="4.9" height="29.26" fill="#e43c2c"/><rect x="485.97" y="404.13" width="4.9" height="11.31" fill="#86ea14"/><rect x="485.97" y="396.59" width="4.9" height="7.54" fill="#6494ea"/><rect x="485.97" y="393.89" width="4.9" height="2.69" fill="#d852aa"/><rect x="492.18" y="403.32" width="4.9" height="41.38" fill="#e43c2c"/><rect x="492.18" y="389.04" width="4.9" height="14.28" fill="#86ea14"/><rect x="492.18" y="385.81" width="4.9" height="3.23" fill="#6494ea"/><rect x="492.18" y="383.12" width="4.9" height="2.69" fill="#d852aa"/><rect x="498.39" y="411.40" width="4.9" height="33.30" fill="#e43c2c"/><rect x="498.39" y="390.66" width="4.9" height="20.74" fill="#86ea14"/><rect x="498.39" y="386.35" width="4.9" height="4.31" fill="#6494ea"/><rect x="498.39" y="380.42" width="4.9" height="5.93" fill="#d852aa"/><rect x="504.60" y="413.29" width="4.9" height="31.41" fill="#e43c2c"/><rect x="504.60" y="400.63" width="4.9" height="12.66" fill="#86ea14"/><rect x="504.60" y="397.93" width="4.9" height="2.69" fill="#6494ea"/><rect x="510.82" y="394.70" width="4.9" height="50.00" fill="#e43c2c"/><rect x="510.82" y="379.07" width="4.9" height="15.63" fill="#86ea14"/><rect x="510.82" y="377.19" width="4.9" height="1.89" fill="#6494ea"/><rect x="517.03" y="396.59" width="4.9" height="48.11" fill="#e43c2c"/><rect x="517.03" y="370.99" width="4.9" height="25.59" fill="#86ea14"/><rect x="517.03" y="361.56" width="4.9" height="9.43" fill="#6494ea"/><rect x="517.03" y="357.52" width="4.9" height="4.04" fill="#d852aa"/><rect x="523.24" y="371.80" width="4.9" height="72.90" fill="#e43c2c"/><rect x="523.24" y="342.17" width="4.9" height="29.63" fill="#86ea14"/><rect x="523.24" y="337.32" width="4.9" height="4.85" fill="#6494ea"/><rect x="523.24" y="334.08" width="4.9" height="3.23" fill="#d852aa"/><rect x="529.45" y="387.96" width="4.9" height="56.74" fill="#e43c2c"/><rect x="529.45" y="346.75" width="4.9" height="41.22" fill="#86ea14"/><rect x="529.45" y="342.71" width="4.9" height="4.04" fill="#6494ea"/><rect x="529.45" y="329.24" width="4.9" height="13.47" fill="#d852aa"/><rect x="535.66" y="389.85" width="4.9" height="54.85" fill="#e43c2c"/><rect x="535.66" y="379.07" width="4.9" height="10.78" fill="#86ea14"/><rect x="535.66" y="375.03" width="4.9" height="4.04" fill="#6494ea"/><rect x="535.66" y="370.99" width="4.9" height="4.04" fill="#d852aa"/><rect x="541.88" y="368.30" width="4.9" height="76.40" fill="#e43c2c"/><rect x="541.88" y="357.52" width="4.9" height="10.78" fill="#86ea14"/><rect x="541.88" y="356.98" width="4.9" height="0.54" fill="#d852aa"/><rect x="548.09" y="402.51" width="4.9" height="42.19" fill="#e43c2c"/><rect x="548.09" y="388.50" width="4.9" height="14.01" fill="#86ea14"/><rect x="554.30" y="391.74" width="4.9" height="52.96" fill="#e43c2c"/><rect x="554.30" y="356.98" width="4.9" height="34.75" fill="#86ea14"/><rect x="554.30" y="347.55" width="4.9" height="9.43" fill="#6494ea"/><rect x="560.51" y="396.59" width="4.9" height="48.11" fill="#e43c2c"/><rect x="560.51" y="373.69" width="4.9" height="22.90" fill="#86ea14"/><rect x="560.51" y="372.34" width="4.9" height="1.35" fill="#6494ea"/><rect x="566.73" y="390.66" width="4.9" height="54.04" fill="#e43c2c"/><rect x="566.73" y="363.72" width="4.9" height="26.94" fill="#86ea14"/><rect x="572.94" y="396.59" width="4.9" height="48.11" fill="#e43c2c"/><rect x="572.94" y="382.31" width="4.9" height="14.28" fill="#86ea14"/><rect x="572.94" y="375.03" width="4.9" height="7.27" fill="#6494ea"/><rect x="579.15" y="364.26" width="4.9" height="80.44" fill="#e43c2c"/><rect x="579.15" y="341.36" width="4.9" height="22.90" fill="#86ea14"/><rect x="579.15" y="337.32" width="4.9" height="4.04" fill="#6494ea"/><rect x="579.15" y="333.28" width="4.9" height="4.04" fill="#d852aa"/>
</g>
<polyline fill="none" stroke="#ece6d8" stroke-width="0.8" opacity="0.9" points="21.5,389.9 90.9,389.9 90.9,389.9 97.1,386.6 165.5,386.6 165.5,386.6 171.7,382.8 240.1,382.8 240.1,382.8 246.3,380.4 314.7,380.4 314.7,380.4 321.0,379.9 389.4,379.9 389.4,379.9 395.6,375.8 464.0,375.8 464.0,375.8 470.2,374.2 538.6,374.2 538.6,374.2 544.8,374.2 582.5,374.2"/>
<text x="27.7" y="48.8" font-size="10" fill="#d2d2d0" textLength="37.8" lengthAdjust="spacingAndGlyphs" xml:space="preserve">Jul  2015</text>
<text x="279" y="48.8" font-size="10" fill="#d2d2d0" textLength="83.7" lengthAdjust="spacingAndGlyphs" xml:space="preserve">Cumulative Demand</text>
<text x="429" y="48.8" font-size="10" fill="#d2d2d0" textLength="143.5" lengthAdjust="spacingAndGlyphs" xml:space="preserve">Total since 2008 = 18,131 Tonnes</text>
<g filter="url(#sh)">
<line x1="29.8" x2="44.5" y1="59.7" y2="59.7" stroke="#e43c2c" stroke-width="3.2"/>
<line x1="29.8" x2="44.5" y1="70.2" y2="70.2" stroke="#86ea14" stroke-width="3.2"/>
<line x1="29.8" x2="44.5" y1="80.7" y2="80.7" stroke="#6494ea" stroke-width="3.2"/>
<line x1="29.8" x2="44.5" y1="91.2" y2="91.2" stroke="#d852aa" stroke-width="3.2"/>
</g>
<text x="51.6" y="63.800000000000004" font-size="10" fill="#d2d2d0" textLength="100.3" lengthAdjust="spacingAndGlyphs" xml:space="preserve">China SGE Withdrawals</text>
<text x="51.6" y="74.3" font-size="10" fill="#d2d2d0" textLength="55.0" lengthAdjust="spacingAndGlyphs" xml:space="preserve">India Imports</text>
<text x="51.6" y="84.8" font-size="10" fill="#d2d2d0" textLength="76.6" lengthAdjust="spacingAndGlyphs" xml:space="preserve">Russian Reserves</text>
<text x="51.6" y="95.3" font-size="10" fill="#d2d2d0" textLength="62.6" lengthAdjust="spacingAndGlyphs" xml:space="preserve">Turkey Imports</text>
<line x1="25" x2="40" y1="317.4" y2="317.4" stroke="#e8e8e0" stroke-width="1.5"/>
<text x="50" y="320.9" font-size="10" fill="#d2d2d0" textLength="75" lengthAdjust="spacingAndGlyphs" xml:space="preserve">Global Production</text>
<text x="286.5" y="320.9" font-size="10" fill="#d2d2d0" textLength="71" lengthAdjust="spacingAndGlyphs" xml:space="preserve">Monthly Demand</text>
<text x="468.5" y="320.9" font-size="10" fill="#d2d2d0" textLength="108" lengthAdjust="spacingAndGlyphs" xml:space="preserve">Latest Month = 410.460 T</text>
<text x="592.2" y="313.00" text-anchor="start" font-size="10.5" font-weight="bold" fill="#2a1c08" stroke="#2a1c08" stroke-width="1.8" stroke-linejoin="round" opacity="0.75">0</text>
<text x="592.2" y="313.00" text-anchor="start" font-size="10.5" font-weight="bold" fill="#d9b684" stroke="#d9b684" stroke-width="0.35">0</text>
<text x="592.2" y="289.43" text-anchor="start" font-size="10.5" font-weight="bold" fill="#2a1c08" stroke="#2a1c08" stroke-width="1.8" stroke-linejoin="round" opacity="0.75">2000</text>
<text x="592.2" y="289.43" text-anchor="start" font-size="10.5" font-weight="bold" fill="#d9b684" stroke="#d9b684" stroke-width="0.35">2000</text>
<text x="592.2" y="265.96" text-anchor="start" font-size="10.5" font-weight="bold" fill="#2a1c08" stroke="#2a1c08" stroke-width="1.8" stroke-linejoin="round" opacity="0.75">4000</text>
<text x="592.2" y="265.96" text-anchor="start" font-size="10.5" font-weight="bold" fill="#d9b684" stroke="#d9b684" stroke-width="0.35">4000</text>
<text x="592.2" y="242.50" text-anchor="start" font-size="10.5" font-weight="bold" fill="#2a1c08" stroke="#2a1c08" stroke-width="1.8" stroke-linejoin="round" opacity="0.75">6000</text>
<text x="592.2" y="242.50" text-anchor="start" font-size="10.5" font-weight="bold" fill="#d9b684" stroke="#d9b684" stroke-width="0.35">6000</text>
<text x="592.2" y="219.03" text-anchor="start" font-size="10.5" font-weight="bold" fill="#2a1c08" stroke="#2a1c08" stroke-width="1.8" stroke-linejoin="round" opacity="0.75">8000</text>
<text x="592.2" y="219.03" text-anchor="start" font-size="10.5" font-weight="bold" fill="#d9b684" stroke="#d9b684" stroke-width="0.35">8000</text>
<text x="592.2" y="195.56" text-anchor="start" font-size="10.5" font-weight="bold" fill="#2a1c08" stroke="#2a1c08" stroke-width="1.8" stroke-linejoin="round" opacity="0.75">10000</text>
<text x="592.2" y="195.56" text-anchor="start" font-size="10.5" font-weight="bold" fill="#d9b684" stroke="#d9b684" stroke-width="0.35">10000</text>
<text x="592.2" y="172.09" text-anchor="start" font-size="10.5" font-weight="bold" fill="#2a1c08" stroke="#2a1c08" stroke-width="1.8" stroke-linejoin="round" opacity="0.75">12000</text>
<text x="592.2" y="172.09" text-anchor="start" font-size="10.5" font-weight="bold" fill="#d9b684" stroke="#d9b684" stroke-width="0.35">12000</text>
<text x="592.2" y="148.62" text-anchor="start" font-size="10.5" font-weight="bold" fill="#2a1c08" stroke="#2a1c08" stroke-width="1.8" stroke-linejoin="round" opacity="0.75">14000</text>
<text x="592.2" y="148.62" text-anchor="start" font-size="10.5" font-weight="bold" fill="#d9b684" stroke="#d9b684" stroke-width="0.35">14000</text>
<text x="592.2" y="125.15" text-anchor="start" font-size="10.5" font-weight="bold" fill="#2a1c08" stroke="#2a1c08" stroke-width="1.8" stroke-linejoin="round" opacity="0.75">16000</text>
<text x="592.2" y="125.15" text-anchor="start" font-size="10.5" font-weight="bold" fill="#d9b684" stroke="#d9b684" stroke-width="0.35">16000</text>
<text x="592.2" y="101.69" text-anchor="start" font-size="10.5" font-weight="bold" fill="#2a1c08" stroke="#2a1c08" stroke-width="1.8" stroke-linejoin="round" opacity="0.75">18000</text>
<text x="592.2" y="101.69" text-anchor="start" font-size="10.5" font-weight="bold" fill="#d9b684" stroke="#d9b684" stroke-width="0.35">18000</text>
<text x="592.2" y="78.22" text-anchor="start" font-size="10.5" font-weight="bold" fill="#2a1c08" stroke="#2a1c08" stroke-width="1.8" stroke-linejoin="round" opacity="0.75">20000</text>
<text x="592.2" y="78.22" text-anchor="start" font-size="10.5" font-weight="bold" fill="#d9b684" stroke="#d9b684" stroke-width="0.35">20000</text>
<text x="592.2" y="54.75" text-anchor="start" font-size="10.5" font-weight="bold" fill="#2a1c08" stroke="#2a1c08" stroke-width="1.8" stroke-linejoin="round" opacity="0.75">22000</text>
<text x="592.2" y="54.75" text-anchor="start" font-size="10.5" font-weight="bold" fill="#d9b684" stroke="#d9b684" stroke-width="0.35">22000</text>
<text x="592.2" y="461.27" text-anchor="start" font-size="10.5" font-weight="bold" fill="#2a1c08" stroke="#2a1c08" stroke-width="1.8" stroke-linejoin="round" opacity="0.75">-50</text>
<text x="592.2" y="461.27" text-anchor="start" font-size="10.5" font-weight="bold" fill="#d9b684" stroke="#d9b684" stroke-width="0.35">-50</text>
<text x="592.2" y="447.80" text-anchor="start" font-size="10.5" font-weight="bold" fill="#2a1c08" stroke="#2a1c08" stroke-width="1.8" stroke-linejoin="round" opacity="0.75">0</text>
<text x="592.2" y="447.80" text-anchor="start" font-size="10.5" font-weight="bold" fill="#d9b684" stroke="#d9b684" stroke-width="0.35">0</text>
<text x="592.2" y="434.33" text-anchor="start" font-size="10.5" font-weight="bold" fill="#2a1c08" stroke="#2a1c08" stroke-width="1.8" stroke-linejoin="round" opacity="0.75">50</text>
<text x="592.2" y="434.33" text-anchor="start" font-size="10.5" font-weight="bold" fill="#d9b684" stroke="#d9b684" stroke-width="0.35">50</text>
<text x="592.2" y="420.86" text-anchor="start" font-size="10.5" font-weight="bold" fill="#2a1c08" stroke="#2a1c08" stroke-width="1.8" stroke-linejoin="round" opacity="0.75">100</text>
<text x="592.2" y="420.86" text-anchor="start" font-size="10.5" font-weight="bold" fill="#d9b684" stroke="#d9b684" stroke-width="0.35">100</text>
<text x="592.2" y="407.39" text-anchor="start" font-size="10.5" font-weight="bold" fill="#2a1c08" stroke="#2a1c08" stroke-width="1.8" stroke-linejoin="round" opacity="0.75">150</text>
<text x="592.2" y="407.39" text-anchor="start" font-size="10.5" font-weight="bold" fill="#d9b684" stroke="#d9b684" stroke-width="0.35">150</text>
<text x="592.2" y="393.92" text-anchor="start" font-size="10.5" font-weight="bold" fill="#2a1c08" stroke="#2a1c08" stroke-width="1.8" stroke-linejoin="round" opacity="0.75">200</text>
<text x="592.2" y="393.92" text-anchor="start" font-size="10.5" font-weight="bold" fill="#d9b684" stroke="#d9b684" stroke-width="0.35">200</text>
<text x="592.2" y="380.45" text-anchor="start" font-size="10.5" font-weight="bold" fill="#2a1c08" stroke="#2a1c08" stroke-width="1.8" stroke-linejoin="round" opacity="0.75">250</text>
<text x="592.2" y="380.45" text-anchor="start" font-size="10.5" font-weight="bold" fill="#d9b684" stroke="#d9b684" stroke-width="0.35">250</text>
<text x="592.2" y="366.98" text-anchor="start" font-size="10.5" font-weight="bold" fill="#2a1c08" stroke="#2a1c08" stroke-width="1.8" stroke-linejoin="round" opacity="0.75">300</text>
<text x="592.2" y="366.98" text-anchor="start" font-size="10.5" font-weight="bold" fill="#d9b684" stroke="#d9b684" stroke-width="0.35">300</text>
<text x="592.2" y="353.51" text-anchor="start" font-size="10.5" font-weight="bold" fill="#2a1c08" stroke="#2a1c08" stroke-width="1.8" stroke-linejoin="round" opacity="0.75">350</text>
<text x="592.2" y="353.51" text-anchor="start" font-size="10.5" font-weight="bold" fill="#d9b684" stroke="#d9b684" stroke-width="0.35">350</text>
<text x="592.2" y="340.04" text-anchor="start" font-size="10.5" font-weight="bold" fill="#2a1c08" stroke="#2a1c08" stroke-width="1.8" stroke-linejoin="round" opacity="0.75">400</text>
<text x="592.2" y="340.04" text-anchor="start" font-size="10.5" font-weight="bold" fill="#d9b684" stroke="#d9b684" stroke-width="0.35">400</text>
<text x="592.2" y="326.57" text-anchor="start" font-size="10.5" font-weight="bold" fill="#2a1c08" stroke="#2a1c08" stroke-width="1.8" stroke-linejoin="round" opacity="0.75">450</text>
<text x="592.2" y="326.57" text-anchor="start" font-size="10.5" font-weight="bold" fill="#d9b684" stroke="#d9b684" stroke-width="0.35">450</text>
<text x="22.9" y="471.90" text-anchor="middle" font-size="10.5" font-weight="bold" fill="#2a1c08" stroke="#2a1c08" stroke-width="1.8" stroke-linejoin="round" opacity="0.75">2008</text>
<text x="22.9" y="471.90" text-anchor="middle" font-size="10.5" font-weight="bold" fill="#d9b684" stroke="#d9b684" stroke-width="0.35">2008</text>
<text x="97.51428571428572" y="471.90" text-anchor="middle" font-size="10.5" font-weight="bold" fill="#2a1c08" stroke="#2a1c08" stroke-width="1.8" stroke-linejoin="round" opacity="0.75">2009</text>
<text x="97.51428571428572" y="471.90" text-anchor="middle" font-size="10.5" font-weight="bold" fill="#d9b684" stroke="#d9b684" stroke-width="0.35">2009</text>
<text x="172.12857142857143" y="471.90" text-anchor="middle" font-size="10.5" font-weight="bold" fill="#2a1c08" stroke="#2a1c08" stroke-width="1.8" stroke-linejoin="round" opacity="0.75">2010</text>
<text x="172.12857142857143" y="471.90" text-anchor="middle" font-size="10.5" font-weight="bold" fill="#d9b684" stroke="#d9b684" stroke-width="0.35">2010</text>
<text x="246.74285714285713" y="471.90" text-anchor="middle" font-size="10.5" font-weight="bold" fill="#2a1c08" stroke="#2a1c08" stroke-width="1.8" stroke-linejoin="round" opacity="0.75">2011</text>
<text x="246.74285714285713" y="471.90" text-anchor="middle" font-size="10.5" font-weight="bold" fill="#d9b684" stroke="#d9b684" stroke-width="0.35">2011</text>
<text x="321.35714285714283" y="471.90" text-anchor="middle" font-size="10.5" font-weight="bold" fill="#2a1c08" stroke="#2a1c08" stroke-width="1.8" stroke-linejoin="round" opacity="0.75">2012</text>
<text x="321.35714285714283" y="471.90" text-anchor="middle" font-size="10.5" font-weight="bold" fill="#d9b684" stroke="#d9b684" stroke-width="0.35">2012</text>
<text x="395.97142857142853" y="471.90" text-anchor="middle" font-size="10.5" font-weight="bold" fill="#2a1c08" stroke="#2a1c08" stroke-width="1.8" stroke-linejoin="round" opacity="0.75">2013</text>
<text x="395.97142857142853" y="471.90" text-anchor="middle" font-size="10.5" font-weight="bold" fill="#d9b684" stroke="#d9b684" stroke-width="0.35">2013</text>
<text x="470.58571428571423" y="471.90" text-anchor="middle" font-size="10.5" font-weight="bold" fill="#2a1c08" stroke="#2a1c08" stroke-width="1.8" stroke-linejoin="round" opacity="0.75">2014</text>
<text x="470.58571428571423" y="471.90" text-anchor="middle" font-size="10.5" font-weight="bold" fill="#d9b684" stroke="#d9b684" stroke-width="0.35">2014</text>
<text x="545.1999999999999" y="471.90" text-anchor="middle" font-size="10.5" font-weight="bold" fill="#2a1c08" stroke="#2a1c08" stroke-width="1.8" stroke-linejoin="round" opacity="0.75">2015</text>
<text x="545.1999999999999" y="471.90" text-anchor="middle" font-size="10.5" font-weight="bold" fill="#d9b684" stroke="#d9b684" stroke-width="0.35">2015</text>
<text transform="translate(635.0,178.2) rotate(-90)" text-anchor="middle" font-size="10.7" font-weight="bold" fill="#2a1c08" stroke="#2a1c08" stroke-width="1.6" stroke-linejoin="round" opacity="0.6">Tonnes</text>
<text transform="translate(635.0,178.2) rotate(-90)" text-anchor="middle" font-size="10.7" font-weight="bold" fill="#e4a83a" stroke="#e4a83a" stroke-width="0.3">Tonnes</text>
<text transform="translate(624,385.5) rotate(-90)" text-anchor="middle" font-size="10.7" font-weight="bold" fill="#2a1c08" stroke="#2a1c08" stroke-width="1.6" stroke-linejoin="round" opacity="0.6">Monthly Demand</text>
<text transform="translate(624,385.5) rotate(-90)" text-anchor="middle" font-size="10.7" font-weight="bold" fill="#e4a83a" stroke="#e4a83a" stroke-width="0.3">Monthly Demand</text>
<text x="223.3" y="485" font-size="10.5" font-weight="bold" fill="#cc3a2a" textLength="220.3" lengthAdjust="spacingAndGlyphs">world gold charts © www.goldchartsrus.com</text>
<path d="M640 489 H638 A2 2 0 0 0 640 487 Z" fill="#e8e8f0"/>
</svg></body></html>
